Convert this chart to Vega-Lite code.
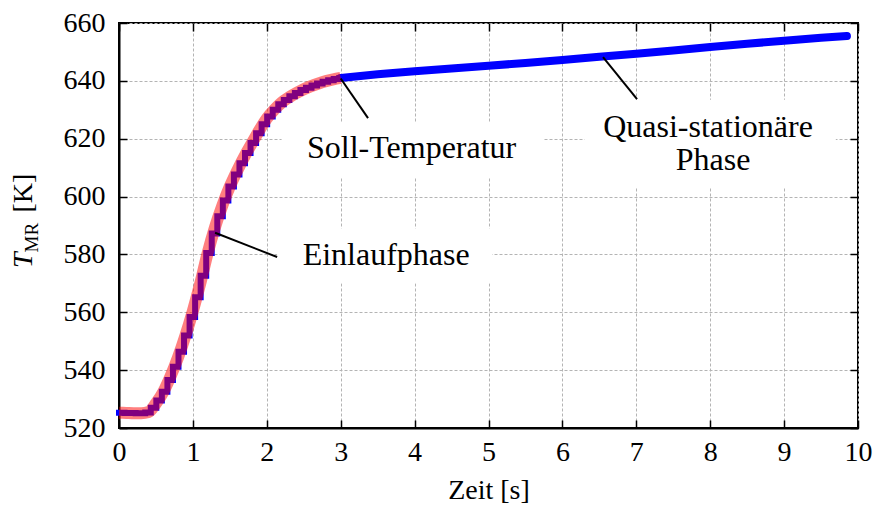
{
  "$schema": "https://vega.github.io/schema/vega-lite/v6.json",
  "width": 739,
  "height": 405,
  "autosize": {"type": "none"},
  "padding": {"left": 119, "top": 23, "right": 19, "bottom": 84},
  "background": "white",
  "view": {"stroke": "black", "strokeWidth": 2},
  "config": {
    "font": "Times New Roman, Liberation Serif, serif",
    "axis": {
      "domainColor": "black", "domainWidth": 2,
      "tickColor": "black", "tickWidth": 1.5, "tickSize": 8,
      "labelFont": "Times New Roman, Liberation Serif, serif", "labelFontSize": 28, "labelColor": "black", "labelFlush": false,
      "titleFont": "Times New Roman, Liberation Serif, serif", "titleFontSize": 28, "titleFontWeight": "normal", "titleColor": "black",
      "gridColor": "#b4b4b4", "gridDash": [3, 2], "gridWidth": 1
    }
  },
  "datasets": {
    "red": [
      {"t": 0.0, "T": 525.3}, {"t": 0.1, "T": 525.2}, {"t": 0.2, "T": 525.1}, {"t": 0.3, "T": 525.1},
      {"t": 0.4, "T": 525.5}, {"t": 0.5, "T": 528.5}, {"t": 0.6, "T": 532.5}, {"t": 0.7, "T": 538.0},
      {"t": 0.8, "T": 544.5}, {"t": 0.9, "T": 552.0}, {"t": 1.0, "T": 560.5}, {"t": 1.1, "T": 570.0},
      {"t": 1.2, "T": 580.5}, {"t": 1.3, "T": 589.5}, {"t": 1.4, "T": 597.0}, {"t": 1.5, "T": 603.5},
      {"t": 1.6, "T": 609.0}, {"t": 1.7, "T": 614.0}, {"t": 1.8, "T": 618.5}, {"t": 1.9, "T": 623.0},
      {"t": 2.0, "T": 627.0}, {"t": 2.1, "T": 630.0}, {"t": 2.2, "T": 632.5}, {"t": 2.3, "T": 634.3},
      {"t": 2.4, "T": 635.8}, {"t": 2.5, "T": 637.1}, {"t": 2.6, "T": 638.2}, {"t": 2.7, "T": 639.1},
      {"t": 2.8, "T": 639.9}, {"t": 2.9, "T": 640.5}, {"t": 3.0, "T": 641.0}
    ],
    "blueStep": [
      {"t": 0.0, "T": 525.3}, {"t": 0.075, "T": 525.2}, {"t": 0.15, "T": 525.15}, {"t": 0.225, "T": 525.1},
      {"t": 0.3, "T": 525.1}, {"t": 0.355, "T": 525.4}, {"t": 0.43, "T": 527.0}, {"t": 0.505, "T": 529.5},
      {"t": 0.58, "T": 532.5}, {"t": 0.655, "T": 536.6}, {"t": 0.73, "T": 541.2}, {"t": 0.805, "T": 546.4},
      {"t": 0.88, "T": 552.0}, {"t": 0.955, "T": 558.4}, {"t": 1.03, "T": 565.2}, {"t": 1.105, "T": 572.6},
      {"t": 1.18, "T": 580.5}, {"t": 1.255, "T": 587.2}, {"t": 1.33, "T": 593.2}, {"t": 1.405, "T": 598.6},
      {"t": 1.48, "T": 603.5}, {"t": 1.555, "T": 607.6}, {"t": 1.63, "T": 611.5}, {"t": 1.705, "T": 615.1},
      {"t": 1.78, "T": 618.5}, {"t": 1.855, "T": 621.9}, {"t": 1.93, "T": 625.0}, {"t": 2.005, "T": 627.7},
      {"t": 2.08, "T": 630.0}, {"t": 2.155, "T": 631.9}, {"t": 2.23, "T": 633.4}, {"t": 2.305, "T": 634.7},
      {"t": 2.38, "T": 635.8}, {"t": 2.455, "T": 636.8}, {"t": 2.53, "T": 637.6}, {"t": 2.605, "T": 638.4},
      {"t": 2.68, "T": 639.1}, {"t": 2.755, "T": 639.7}, {"t": 2.83, "T": 640.2}, {"t": 2.905, "T": 640.6},
      {"t": 2.98, "T": 641.0}, {"t": 3.0, "T": 641.0}
    ],
    "blueRamp": [
      {"t": 3.0, "T": 641.0}, {"t": 3.5, "T": 642.3}, {"t": 4.0, "T": 643.3}, {"t": 4.5, "T": 644.3},
      {"t": 5.0, "T": 645.2}, {"t": 5.5, "T": 646.2}, {"t": 6.0, "T": 647.2}, {"t": 6.5, "T": 648.3},
      {"t": 7.0, "T": 649.4}, {"t": 7.5, "T": 650.5}, {"t": 8.0, "T": 651.7}, {"t": 8.5, "T": 652.8},
      {"t": 9.0, "T": 653.9}, {"t": 9.5, "T": 654.9}, {"t": 9.85, "T": 655.5}
    ],
    "boxes": [
      {"t": 2.2, "t2": 5.75, "T": 606.5, "T2": 625.5},
      {"t": 2.14, "t2": 5.05, "T": 570.0, "T2": 589.0},
      {"t": 6.3, "t2": 9.7, "T": 603.0, "T2": 633.5}
    ],
    "pointers": [
      {"t": 3.0, "T": 640.8, "t2": 3.37, "T2": 627.1},
      {"t": 1.3, "T": 587.5, "t2": 2.14, "T2": 579.1},
      {"t": 6.55, "T": 648.2, "t2": 7.01, "T2": 633.7}
    ],
    "notes": [
      {"text": "Soll-Temperatur", "t": 3.96, "T": 613.2},
      {"text": "Einlaufphase", "t": 3.615, "T": 576.3},
      {"text": "Quasi-stationäre", "t": 7.97, "T": 620.7},
      {"text": "Phase", "t": 8.04, "T": 609.1}
    ],
    "ytitle": [
      {"part": "T", "t": -1.175, "T": 578.0},
      {"part": "MR", "t": -1.1, "T": 585.8},
      {"part": "[K]", "t": -1.175, "T": 601.2}
    ]
  },
  "layer": [
    {
      "data": {"name": "boxes"},
      "mark": {"type": "rect", "fill": "white", "stroke": null},
      "encoding": {
        "x": {"field": "t", "type": "quantitative", "scale": {"domain": [0, 10], "nice": false},
              "axis": {"orient": "bottom", "values": [0,1,2,3,4,5,6,7,8,9,10], "grid": true, "ticks": false, "labelPadding": 10, "title": "Zeit [s]", "titlePadding": 10}},
        "x2": {"field": "t2"},
        "y": {"field": "T", "type": "quantitative", "scale": {"domain": [520, 660], "nice": false},
              "axis": {"orient": "left", "values": [520,540,560,580,600,620,640,660], "grid": true, "ticks": false, "labelPadding": 14, "title": null}},
        "y2": {"field": "T2"}
      }
    },
    {
      "data": {"name": "blueStep"},
      "mark": {"type": "line", "color": "#0000ff", "strokeWidth": 6, "interpolate": "step-after", "strokeCap": "square"},
      "encoding": {
        "x": {"field": "t", "type": "quantitative", "scale": {"domain": [0, 10], "nice": false}, "axis": null},
        "y": {"field": "T", "type": "quantitative", "scale": {"domain": [520, 660], "nice": false}, "axis": null}
      }
    },
    {
      "data": {"name": "blueRamp"},
      "mark": {"type": "line", "color": "#0000ff", "strokeWidth": 8, "strokeCap": "round"},
      "encoding": {
        "x": {"field": "t", "type": "quantitative", "scale": {"domain": [0, 10], "nice": false}, "axis": null},
        "y": {"field": "T", "type": "quantitative", "scale": {"domain": [520, 660], "nice": false}, "axis": null}
      }
    },
    {
      "data": {"name": "red"},
      "mark": {"type": "line", "color": "#ff0000", "opacity": 0.5, "strokeWidth": 12, "interpolate": "monotone", "strokeCap": "butt"},
      "encoding": {
        "x": {"field": "t", "type": "quantitative", "scale": {"domain": [0, 10], "nice": false}, "axis": null},
        "y": {"field": "T", "type": "quantitative", "scale": {"domain": [520, 660], "nice": false}, "axis": null}
      }
    },
    {
      "data": {"name": "pointers"},
      "mark": {"type": "rule", "color": "black", "strokeWidth": 2},
      "encoding": {
        "x": {"field": "t", "type": "quantitative", "scale": {"domain": [0, 10], "nice": false}, "axis": null},
        "x2": {"field": "t2"},
        "y": {"field": "T", "type": "quantitative", "scale": {"domain": [520, 660], "nice": false}, "axis": null},
        "y2": {"field": "T2"}
      }
    },
    {
      "data": {"name": "notes"},
      "mark": {"type": "text", "font": "Times New Roman, Liberation Serif, serif", "fontSize": 32, "color": "black", "align": "center", "baseline": "alphabetic"},
      "encoding": {
        "x": {"field": "t", "type": "quantitative", "scale": {"domain": [0, 10], "nice": false}, "axis": null},
        "y": {"field": "T", "type": "quantitative", "scale": {"domain": [520, 660], "nice": false}, "axis": null},
        "text": {"field": "text"}
      }
    },
    {
      "data": {"name": "ytitle"},
      "transform": [{"filter": "datum.part === 'T'"}],
      "mark": {"type": "text", "font": "Times New Roman, Liberation Serif, serif", "fontSize": 28, "fontStyle": "italic", "color": "black", "align": "center", "baseline": "alphabetic", "angle": 270},
      "encoding": {
        "x": {"field": "t", "type": "quantitative", "scale": {"domain": [0, 10], "nice": false}, "axis": null},
        "y": {"field": "T", "type": "quantitative", "scale": {"domain": [520, 660], "nice": false}, "axis": null},
        "text": {"field": "part"}
      }
    },
    {
      "data": {"name": "ytitle"},
      "transform": [{"filter": "datum.part === 'MR'"}],
      "mark": {"type": "text", "font": "Times New Roman, Liberation Serif, serif", "fontSize": 19, "color": "black", "align": "center", "baseline": "alphabetic", "angle": 270},
      "encoding": {
        "x": {"field": "t", "type": "quantitative", "scale": {"domain": [0, 10], "nice": false}, "axis": null},
        "y": {"field": "T", "type": "quantitative", "scale": {"domain": [520, 660], "nice": false}, "axis": null},
        "text": {"field": "part"}
      }
    },
    {
      "data": {"name": "ytitle"},
      "transform": [{"filter": "datum.part === '[K]'"}],
      "mark": {"type": "text", "font": "Times New Roman, Liberation Serif, serif", "fontSize": 28, "color": "black", "align": "center", "baseline": "alphabetic", "angle": 270},
      "encoding": {
        "x": {"field": "t", "type": "quantitative", "scale": {"domain": [0, 10], "nice": false}, "axis": null},
        "y": {"field": "T", "type": "quantitative", "scale": {"domain": [520, 660], "nice": false}, "axis": null},
        "text": {"field": "part"}
      }
    },
    {
      "data": {"name": "pointers"},
      "mark": {"type": "point", "opacity": 0},
      "encoding": {
        "x": {"field": "t", "type": "quantitative", "scale": {"domain": [0, 10], "nice": false},
              "axis": {"orient": "top", "offset": -8, "domain": false, "values": [0,1,2,3,4,5,6,7,8,9,10], "labels": false, "grid": false, "title": null}},
        "y": {"field": "T", "type": "quantitative", "scale": {"domain": [520, 660], "nice": false},
              "axis": {"orient": "right", "offset": -8, "domain": false, "values": [520,540,560,580,600,620,640,660], "labels": false, "grid": false, "title": null}}
      }
    },
    {
      "data": {"name": "pointers"},
      "mark": {"type": "point", "opacity": 0},
      "encoding": {
        "x": {"field": "t", "type": "quantitative", "scale": {"domain": [0, 10], "nice": false},
              "axis": {"orient": "bottom", "offset": -8, "domain": false, "values": [0,1,2,3,4,5,6,7,8,9,10], "labels": false, "grid": false, "title": null}},
        "y": {"field": "T", "type": "quantitative", "scale": {"domain": [520, 660], "nice": false},
              "axis": {"orient": "left", "offset": -8, "domain": false, "values": [520,540,560,580,600,620,640,660], "labels": false, "grid": false, "title": null}}
      }
    }
  ],
  "resolve": {"axis": {"x": "independent", "y": "independent"}}
}
